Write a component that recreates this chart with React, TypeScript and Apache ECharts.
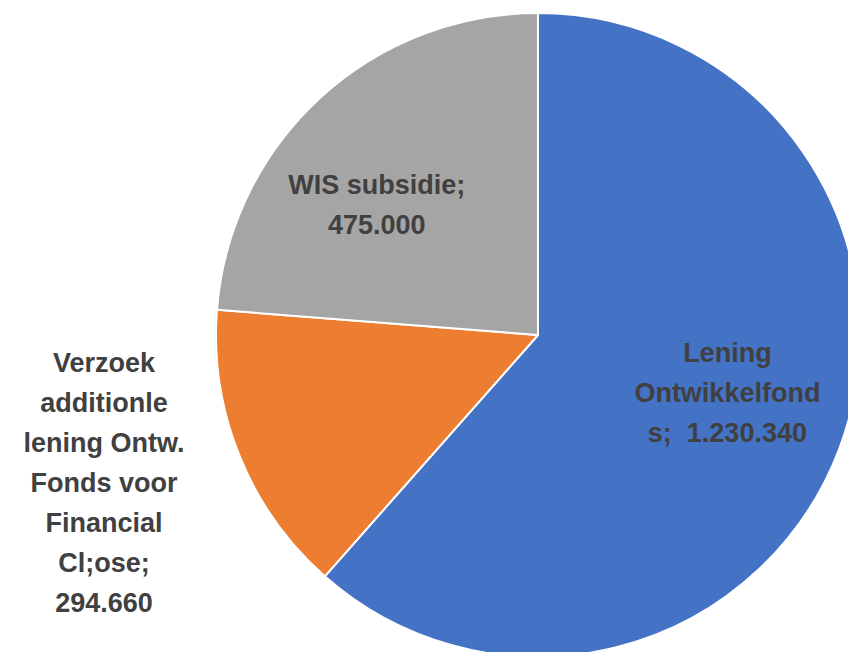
import React, { useEffect, useRef } from "react";
import * as echarts from "echarts";

const categories = [
  "Lening Ontwikkelfonds",
  "Verzoek additionle lening Ontw. Fonds voor Financial Cl;ose",
  "WIS subsidie",
];
const values = [1230340, 294660, 475000];
const labelTexts = [
  "Lening\nOntwikkelfond\ns;  {v}",
  "Verzoek\nadditionle\nlening Ontw.\nFonds voor\nFinancial\nCl;ose;\n{v}",
  "WIS subsidie;\n{v}",
];
const colors = ["#4472C4", "#ED7D31", "#A5A5A5"];
const labelShift = [
  [36, 0],
  [-282, 87],
  [-50, -10],
];

function fmt(n: number): string {
  return String(n).replace(/\B(?=(\d{3})+(?!\d))/g, ".");
}

export default function App() {
  const ref = useRef<HTMLDivElement>(null);
  useEffect(() => {
    document.body.style.margin = "0";
    const chart = echarts.init(ref.current!, null, { renderer: "svg" });
    chart.setOption({
      animation: false,
      backgroundColor: "#ffffff",
      series: [
        {
          type: "pie",
          center: [538, 335],
          radius: 322,
          startAngle: 90,
          clockwise: true,
          avoidLabelOverlap: false,
          itemStyle: { borderColor: "#ffffff", borderWidth: 2 },
          label: {
            show: true,
            position: "inside",
            color: "#404040",
            fontFamily: "Liberation Sans",
            fontWeight: "bold",
            fontSize: 27,
            lineHeight: 40,
            align: "center",
            formatter: (p: any) => labelTexts[p.dataIndex].replace("{v}", fmt(p.value)),
          },
          labelLine: { show: false },
          labelLayout: (p: any) => ({
            dx: labelShift[p.dataIndex][0],
            dy: labelShift[p.dataIndex][1],
          }),
          emphasis: { disabled: true },
          data: categories.map((c, i) => ({
            name: c,
            value: values[i],
            itemStyle: { color: colors[i] },
          })),
        },
      ],
    });
    return () => chart.dispose();
  }, []);
  return <div ref={ref} style={{ width: 848, height: 652 }} />;
}
